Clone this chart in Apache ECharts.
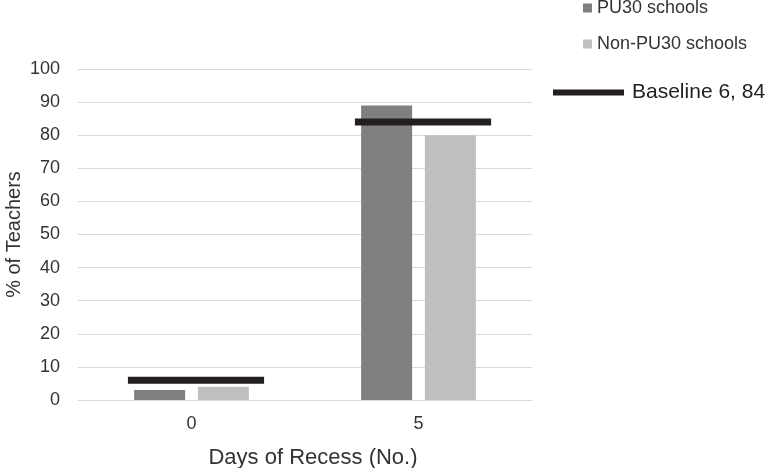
<!DOCTYPE html>
<html><head><meta charset="utf-8">
<script src="https://cdn.jsdelivr.net/npm/echarts@6/dist/echarts.min.js"></script>
<style>html,body{margin:0;padding:0;background:#fff}#c{width:770px;height:468px}</style>
</head><body><div id="c"></div>
<script>
const categories = ['0', '5'];
const pu30 = [3, 89];
const nonPu30 = [4, 80];
const baseline = [6, 84];
const yTicks = [0, 10, 20, 30, 40, 50, 60, 70, 80, 90, 100];

const chart = echarts.init(document.getElementById('c'));
const font = 'Liberation Sans, Arial, sans-serif';
chart.setOption({
  animation: false,
  textStyle: { fontFamily: font },
  grid: { left: 78, right: 238, top: 69, bottom: 68, containLabel: false, outerBoundsMode: 'none' },
  legend: [
    {
      data: ['PU30 schools', 'Non-PU30 schools'],
      orient: 'vertical', left: 578, top: -1, padding: [0, 5],
      itemWidth: 9, itemHeight: 9, itemGap: 18, icon: 'rect',
      textStyle: { fontSize: 18, color: '#333', fontFamily: font }
    },
    {
      data: [{ name: 'Baseline 6, 84', icon: 'rect' }],
      left: 553, top: 82, padding: 0,
      itemWidth: 71, itemHeight: 6,
      textStyle: { fontSize: 21, color: '#222', fontFamily: font, padding: [0, 0, 0, 3] }
    }
  ],
  xAxis: {
    type: 'category', data: categories,
    name: 'Days of Recess (No.)', nameLocation: 'middle', nameGap: 47,
    nameMoveOverlap: false,
    nameTextStyle: { fontSize: 22, color: '#333', padding: [0, 0, 0, 16] },
    axisLine: { lineStyle: { color: '#d9d9d9' } },
    axisTick: { show: false },
    axisLabel: { fontSize: 18, color: '#333', margin: 15 }
  },
  yAxis: {
    type: 'value', min: yTicks[0], max: yTicks[yTicks.length - 1], interval: 10,
    name: '% of Teachers', nameLocation: 'middle', nameGap: 54,
    nameMoveOverlap: false,
    nameTextStyle: { fontSize: 20, color: '#333' },
    axisLine: { show: false }, axisTick: { show: false },
    axisLabel: { fontSize: 18, color: '#333', margin: 18 },
    splitLine: { lineStyle: { color: '#d9d9d9' } }
  },
  series: [
    { name: 'PU30 schools', type: 'bar', data: pu30, itemStyle: { color: '#7f7f7f' },
      barWidth: 51, barGap: '25%' },
    { name: 'Non-PU30 schools', type: 'bar', data: nonPu30, itemStyle: { color: '#bfbfbf' },
      barWidth: 51, barGap: '25%' },
    { name: 'Baseline 6, 84', type: 'custom', itemStyle: { color: '#231f20' },
      data: baseline.map((v, i) => [i, v]),
      encode: { x: 0, y: 1 },
      z: 5,
      renderItem: function (params, api) {
        const p = api.coord([api.value(0), api.value(1)]);
        const w = api.size([1, 0])[0] * 0.6;
        return { type: 'rect', shape: { x: p[0] - w / 2 + 4.5, y: p[1] - 3.5, width: w, height: 7 },
          style: { fill: '#231f20' } };
      }
    }
  ]
});
</script></body></html>
